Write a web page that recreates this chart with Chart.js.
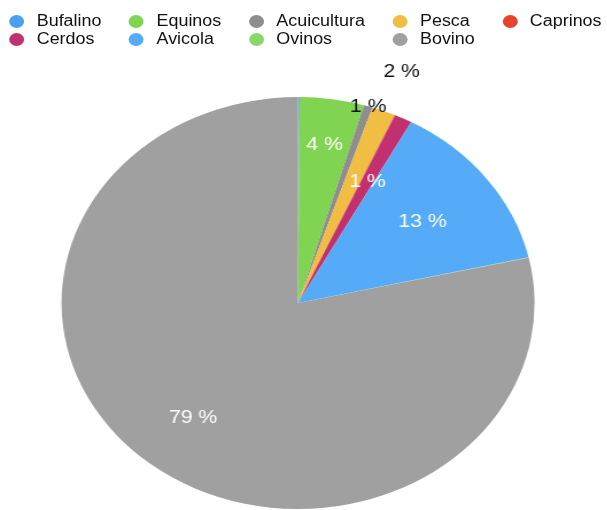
<!DOCTYPE html>
<html>
<head>
<meta charset="utf-8">
<script src="https://cdn.jsdelivr.net/npm/chart.js@4/dist/chart.umd.min.js"></script>
<style>
  html, body { margin: 0; padding: 0; background: #fff; overflow: hidden; }
  /* the reference is stretched horizontally, so the whole stage is too */
  #stage {
    position: absolute; left: 0; top: 0;
    width: 528.7px; height: 510px;
    transform: scaleX(1.148); transform-origin: 0 0;
    font-family: "Liberation Sans", Arial, sans-serif;
  }
  #legend {
    position: absolute; left: 8px; top: 12.5px;
    display: grid; grid-template-columns: repeat(5, auto);
    column-gap: 24px; grid-auto-rows: 17.8px;
    font-size: 15.6px; color: #111;
  }
  .item { display: flex; align-items: center; white-space: nowrap; }
  .dot { width: 13px; height: 13px; border-radius: 50%; margin-right: 11px; flex: none; }
  #pie { position: absolute; left: 0; top: 50px; }
</style>
</head>
<body>
<div id="stage">
  <div id="legend"></div>
  <canvas id="pie" width="529" height="460"></canvas>
</div>
<script>
const labels = ['Bufalino', 'Equinos', 'Acuicultura', 'Pesca', 'Caprinos', 'Cerdos', 'Avicola', 'Ovinos', 'Bovino'];
const shares = [0.1, 4.4, 0.6, 1.6, 0.05, 1.2, 13.5, 0.05, 78.6];
const colors = ['#4a9ff2', '#80d452', '#8e8e8e', '#f0be42', '#e8412c', '#c3306f', '#55abf7', '#8bd86a', '#a0a0a0'];

// leyenda en columnas
const legend = document.getElementById('legend');
labels.forEach((name, i) => {
  const item = document.createElement('div');
  item.className = 'item';
  item.innerHTML = '<span class="dot" style="background:' + colors[i] + '"></span>' + name;
  legend.appendChild(item);
});

// etiquetas de porcentaje
const labelPlace = { 1: 0.78, 2: 1.0, 3: 1.21, 5: 0.66, 6: 0.66, 8: 0.71 };
const darkLabels = [2, 3];
const pctLabels = {
  id: 'pctLabels',
  afterDatasetsDraw(chart) {
    const ctx = chart.ctx;
    const data = chart.data.datasets[0].data;
    const total = data.reduce((a, b) => a + b, 0);
    ctx.save();
    ctx.font = '18.5px "Liberation Sans", Arial, sans-serif';
    ctx.textAlign = 'center';
    ctx.textBaseline = 'middle';
    chart.getDatasetMeta(0).data.forEach((arc, i) => {
      const pct = Math.round(data[i] / total * 100);
      if (pct < 1) return;
      const f = labelPlace[i] || 0.7;
      const mid = (arc.startAngle + arc.endAngle) / 2;
      const x = arc.x + Math.cos(mid) * arc.outerRadius * f;
      const y = arc.y + Math.sin(mid) * arc.outerRadius * f + 1;
      ctx.fillStyle = darkLabels.includes(i) ? '#111' : '#fff';
      ctx.fillText(pct + ' %', x, y);
    });
    ctx.restore();
  }
};

new Chart(document.getElementById('pie'), {
  type: 'pie',
  data: {
    labels: labels,
    datasets: [{
      data: shares,
      backgroundColor: colors,
      borderWidth: 0
    }]
  },
  options: {
    responsive: false,
    animation: false,
    layout: { padding: { left: 53.6, right: 63.4, top: 47, bottom: 1 } },
    plugins: { legend: { display: false }, tooltip: { enabled: false } }
  },
  plugins: [pctLabels]
});
</script>
</body>
</html>
